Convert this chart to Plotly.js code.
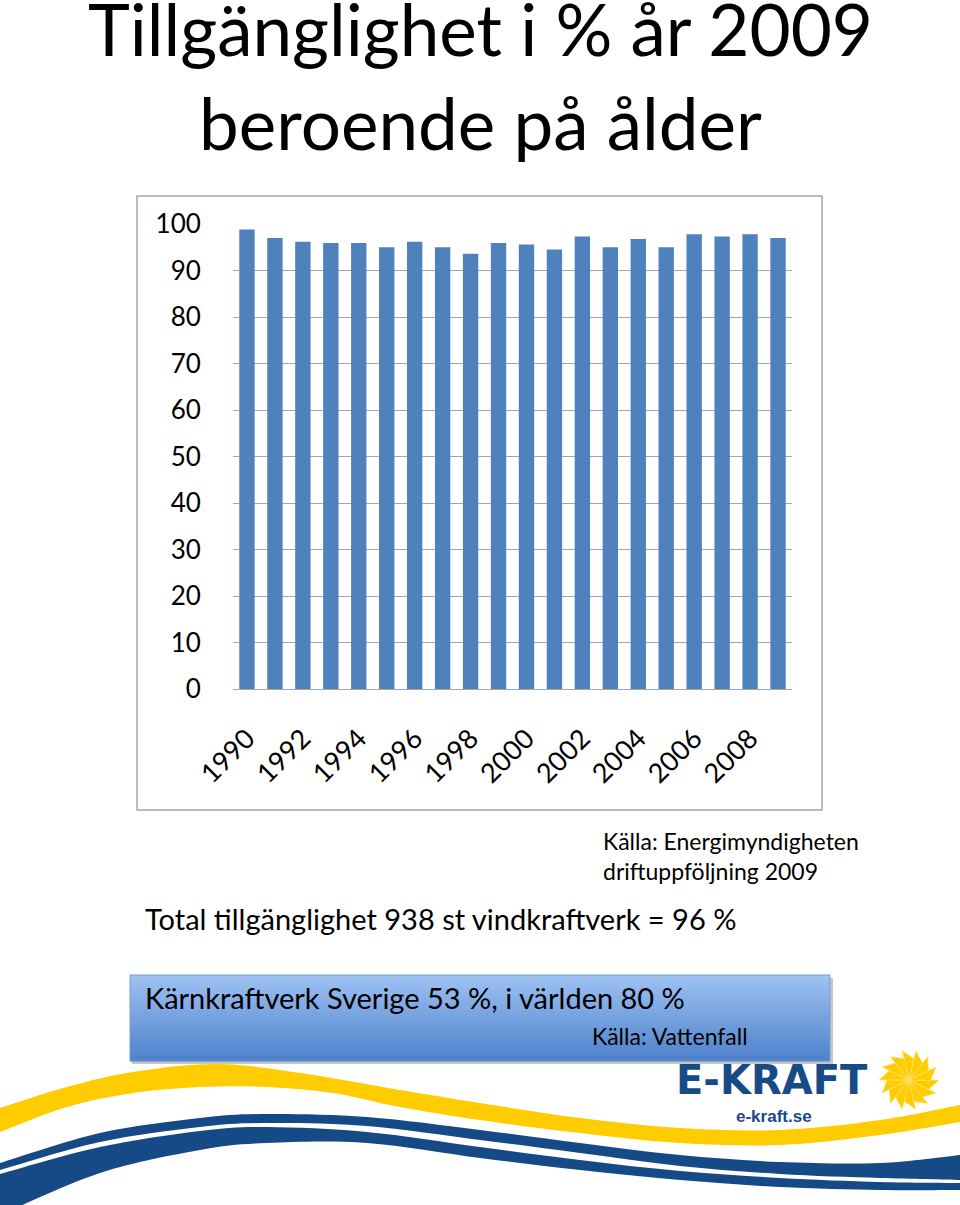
<!DOCTYPE html>
<html>
<head>
<meta charset="utf-8">
<script src="https://cdn.plot.ly/plotly-3.0.1.min.js"></script>
<style>html,body{margin:0;padding:0;background:#fff;}#chart{width:960px;height:1205px;}</style>
</head>
<body>
<div id="chart"></div>
<script>
// ---- data ----
var years = ['1990','1991','1992','1993','1994','1995','1996','1997','1998','1999',
             '2000','2001','2002','2003','2004','2005','2006','2007','2008','2009'];
var availability = [98.8, 97.0, 96.2, 95.9, 95.9, 95.0, 96.2, 95.0, 93.6, 95.9,
                    95.6, 94.5, 97.3, 95.0, 96.8, 95.0, 97.8, 97.3, 97.8, 97.0];
var xTickLabels = ['1990','1992','1994','1996','1998','2000','2002','2004','2006','2008'];
var yTickValues = [0,10,20,30,40,50,60,70,80,90,100];

// ---- layout helpers (pixel -> paper) ----
var W = 960, H = 1205, L = 233, R = 168, T = 224, B = 516;
var PW = W - L - R, PH = H - T - B;
function px(x){ return (x - L) / PW; }
function py(y){ return (H - B - y) / PH; }
function pt(p){ return px(p[0]).toFixed(5) + ',' + py(p[1]).toFixed(5); }

// smooth (Catmull-Rom -> Bezier) path through points
function smooth(pts){
  var d = '';
  for (var i = 0; i < pts.length - 1; i++) {
    var p0 = pts[Math.max(i - 1, 0)], p1 = pts[i], p2 = pts[i + 1], p3 = pts[Math.min(i + 2, pts.length - 1)];
    var c1 = [p1[0] + (p2[0] - p0[0]) / 6, p1[1] + (p2[1] - p0[1]) / 6];
    var c2 = [p2[0] - (p3[0] - p1[0]) / 6, p2[1] - (p3[1] - p1[1]) / 6];
    d += ' C' + pt(c1) + ' ' + pt(c2) + ' ' + pt(p2);
  }
  return d;
}
function band(top, bottom, color){
  var bot = bottom.slice().reverse();
  var d = 'M' + pt(top[0]) + smooth(top) + ' L' + pt(bot[0]) + smooth(bot) + ' Z';
  return {type:'path', xref:'paper', yref:'paper', path:d, line:{width:0}, fillcolor:color, layer:'below'};
}

var FONT = 'Lato, "Open Sans", sans-serif';
var shapes = [];

// chart frame
shapes.push({type:'rect', xref:'paper', yref:'paper', x0:px(137), x1:px(822), y0:py(810), y1:py(196),
  line:{color:'#A6A6A6', width:1.5}, fillcolor:'rgba(0,0,0,0)', layer:'below'});

// decorative waves
shapes.push(band(
  [[0,1108],[67,1087],[133,1072],[217,1064],[300,1073],[400,1090],[480,1103],[580,1118],[680,1128],[780,1130],[880,1120],[960,1105]],
  [[0,1132],[67,1107],[133,1093],[200,1087],[267,1087],[333,1093],[400,1107],[480,1120],[580,1133],[680,1143],[780,1145],[880,1135],[960,1122]],
  '#FFCC00'));
shapes.push(band(
  [[0,1163],[100,1133],[200,1118],[267,1114],[367,1117],[480,1130],[580,1143],[680,1155],[780,1162],[880,1163],[960,1155]],
  [[0,1170],[100,1142],[200,1127],[267,1123],[367,1126],[480,1140],[580,1153],[680,1166],[780,1174],[880,1178],[960,1180]],
  '#154A87'));
shapes.push(band(
  [[0,1174],[100,1147],[200,1131],[267,1127],[367,1132],[480,1147],[580,1160],[680,1171],[780,1178],[880,1182],[960,1183]],
  [[0,1215],[100,1173],[200,1150],[267,1143],[367,1143],[480,1158],[580,1170],[680,1180],[780,1187],[880,1190],[960,1190]],
  '#154A87'));

// gradient box (shadow + strips)
shapes.push({type:'rect', xref:'paper', yref:'paper', x0:px(132), x1:px(833), y0:py(1064), y1:py(978),
  line:{width:0}, fillcolor:'rgba(0,0,0,0.22)', layer:'below'});
var bx0 = 130, bx1 = 830, by0 = 975, by1 = 1061, N = 40;
var c0 = [157,193,243], c1 = [78,130,204];
for (var i = 0; i < N; i++) {
  var t = i / (N - 1);
  var c = c0.map(function(v, k){ return Math.round(v + (c1[k] - v) * t); });
  shapes.push({type:'rect', xref:'paper', yref:'paper', x0:px(bx0), x1:px(bx1),
    y0:py(by0 + (i + 1) * (by1 - by0) / N + 0.5), y1:py(by0 + i * (by1 - by0) / N),
    line:{width:0}, fillcolor:'rgb(' + c.join(',') + ')', layer:'below'});
}
shapes.push({type:'rect', xref:'paper', yref:'paper', x0:px(bx0), x1:px(bx1), y0:py(by1), y1:py(by0),
  line:{color:'#7A9CCB', width:1}, fillcolor:'rgba(0,0,0,0)', layer:'below'});

// sun (pinwheel) logo
var cx = 909, cy = 1080, r = 30, NP = 14, step = 2 * Math.PI / NP;
for (var k = 0; k < NP; k++) {
  var a = k * step;
  var p1 = [cx + r * Math.cos(a), cy + r * Math.sin(a)];
  var p2 = [cx + 0.72 * r * Math.cos(a + step * 1.05), cy + 0.72 * r * Math.sin(a + step * 1.05)];
  shapes.push({type:'path', xref:'paper', yref:'paper',
    path:'M' + pt([cx, cy]) + ' L' + pt(p1) + ' L' + pt(p2) + ' Z',
    fillcolor:'#FFCC00', line:{color:'#FFE27A', width:0.8}, layer:'above'});
}

function note(text, x, y, size, extra){
  var a = {text:text, xref:'paper', yref:'paper', x:px(x), y:py(y), xanchor:'left', yanchor:'middle',
    showarrow:false, font:{family:FONT, size:size, color:'#000'}};
  if (extra) for (var k in extra) a[k] = extra[k];
  return a;
}
var annotations = [
  note('Tillgänglighet i % år 2009', 480, 29, 71, {xanchor:'center'}),
  note('beroende på ålder', 480, 123, 71, {xanchor:'center'}),
  note('Källa: Energimyndigheten', 601, 841, 23),
  note('driftuppföljning 2009', 601, 871, 23),
  note('Total tillgänglighet 938 st vindkraftverk = 96 %', 143, 918, 29),
  note('Kärnkraftverk Sverige 53 %, i världen 80 %', 143, 997, 29),
  note('Källa: Vattenfall', 590, 1036, 23),
  {text:'<b>E-KRAFT</b>', xref:'paper', yref:'paper', x:px(772), y:py(1080), xanchor:'center', yanchor:'middle',
    showarrow:false, font:{family:'"DejaVu Sans", sans-serif', size:40, color:'#174B88'}},
  {text:'<b>e-kraft.se</b>', xref:'paper', yref:'paper', x:px(774), y:py(1116), xanchor:'center', yanchor:'middle',
    showarrow:false, font:{family:'"Liberation Sans", Arial, sans-serif', size:17, color:'#174B88'}}
];

var trace = {type:'bar', x:years, y:availability, marker:{color:'#4F81BD'}, hoverinfo:'x+y'};

var layout = {
  width:W, height:H, margin:{l:L, r:R, t:T, b:B, pad:0},
  paper_bgcolor:'#fff', plot_bgcolor:'#fff',
  showlegend:false, bargap:0.45,
  font:{family:FONT, color:'#000'},
  xaxis:{type:'category', tickmode:'array', tickvals:xTickLabels, ticktext:xTickLabels,
    tickangle:-45, tickfont:{family:FONT, size:27, color:'#000'},
    showgrid:false, showline:true, linecolor:'#A6A6A6', linewidth:1,
    ticks:'outside', ticklen:22, tickcolor:'rgba(0,0,0,0)', zeroline:false},
  yaxis:{range:[0,100], tickmode:'array', tickvals:yTickValues, ticktext:yTickValues.map(String),
    tickfont:{family:FONT, size:26, color:'#000'}, showgrid:true, gridcolor:'#A6A6A6', gridwidth:1,
    showline:false, zeroline:false, ticks:'outside', ticklen:26, tickcolor:'rgba(0,0,0,0)'},
  shapes:shapes, annotations:annotations
};

Plotly.newPlot('chart', [trace], layout, {displayModeBar:false, staticPlot:true});
</script>
</body>
</html>
